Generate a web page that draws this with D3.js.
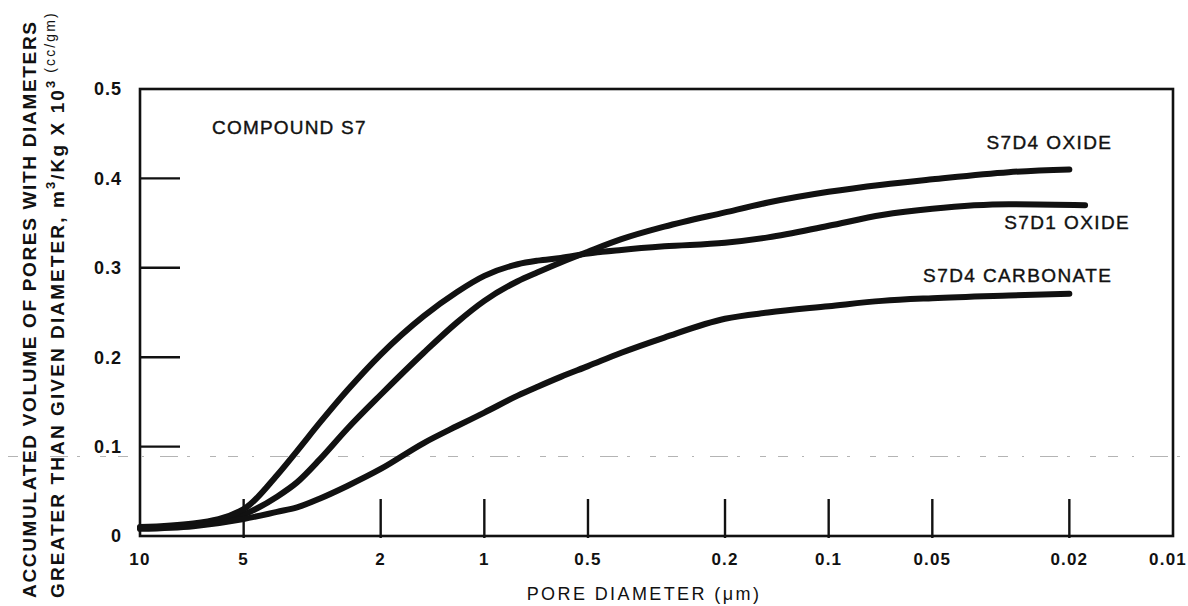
<!DOCTYPE html>
<html>
<head>
<meta charset="utf-8">
<script src="https://cdn.jsdelivr.net/npm/d3@7"></script>
<style>
  body { margin: 0; background: #fff; }
  svg { display: block; }
  text { font-family: "Liberation Sans", Arial, Helvetica, sans-serif; fill: #111; }
</style>
</head>
<body>
<svg id="chart" width="1188" height="606"></svg>
<script>
// Pore diameters (µm) at which the cumulative volumes are sampled
const diameters = [10, 7, 5, 4, 3.5, 3, 2.5, 2, 1.5, 1.2, 1, 0.8, 0.7, 0.6, 0.5, 0.4, 0.3, 0.2, 0.15, 0.1, 0.07, 0.05, 0.03, 0.02];
const diametersS7D1 = [10, 7, 5, 4, 3.5, 3, 2.5, 2, 1.5, 1.2, 1, 0.8, 0.7, 0.6, 0.5, 0.4, 0.3, 0.2, 0.15, 0.1, 0.07, 0.05, 0.03, 0.018];

// Accumulated pore volume, m³/kg × 10³ (cc/gm)
const s7d4Oxide     = [0.009, 0.013, 0.024, 0.044, 0.060, 0.086, 0.120, 0.158, 0.205, 0.239, 0.263, 0.285, 0.295, 0.306, 0.318, 0.332, 0.346, 0.362, 0.373, 0.385, 0.393, 0.399, 0.407, 0.410];
const s7d1Oxide     = [0.010, 0.014, 0.030, 0.068, 0.095, 0.127, 0.163, 0.203, 0.246, 0.273, 0.291, 0.304, 0.308, 0.311, 0.316, 0.320, 0.324, 0.328, 0.334, 0.347, 0.359, 0.366, 0.371, 0.370];
const s7d4Carbonate = [0.008, 0.011, 0.019, 0.027, 0.032, 0.042, 0.056, 0.075, 0.104, 0.123, 0.138, 0.157, 0.167, 0.178, 0.190, 0.205, 0.222, 0.243, 0.250, 0.257, 0.263, 0.266, 0.269, 0.271];

const seriesNames = ["S7D4 OXIDE", "S7D1 OXIDE", "S7D4 CARBONATE"];
const xTickValues = [5, 2, 1, 0.5, 0.2, 0.1, 0.05, 0.02];
const xLabelValues = [10, 5, 2, 1, 0.5, 0.2, 0.1, 0.05, 0.02, 0.01];
const yTickValues = [0.1, 0.2, 0.3, 0.4];
const yLabelValues = [0, 0.1, 0.2, 0.3, 0.4, 0.5];
const guideValue = 0.089;

const svg = d3.select("#chart");
svg.append("rect").attr("width", 1188).attr("height", 606).attr("fill", "#fff");

const x = d3.scaleLog().domain([10, 0.01]).range([140, 1173]);
const y = d3.scaleLinear().domain([0, 0.5]).range([536, 89]);

const [x0, x1] = x.range();
const [y0, y1] = y.range();

// faint dashed guide running across the sheet
svg.append("line")
  .attr("x1", 8).attr("x2", 1182)
  .attr("y1", y(guideValue)).attr("y2", y(guideValue))
  .attr("stroke", "#b4b4b4").attr("stroke-width", 1.1)
  .attr("stroke-dasharray", "10 14 2 16 18 9 3 20 6 12");

// frame
svg.append("rect")
  .attr("x", x0).attr("y", y1)
  .attr("width", x1 - x0).attr("height", y0 - y1)
  .attr("fill", "none").attr("stroke", "#111").attr("stroke-width", 2.6);

// inward y ticks
svg.append("g").selectAll("line").data(yTickValues).join("line")
  .attr("x1", x0).attr("x2", x0 + 40)
  .attr("y1", d => y(d)).attr("y2", d => y(d))
  .attr("stroke", "#111").attr("stroke-width", 2.4);

// upward x ticks
svg.append("g").selectAll("line").data(xTickValues).join("line")
  .attr("x1", d => x(d)).attr("x2", d => x(d))
  .attr("y1", y0 + 2).attr("y2", y0 - 37)
  .attr("stroke", "#111").attr("stroke-width", 2.4);

// y tick labels
svg.append("g").selectAll("text").data(yLabelValues).join("text")
  .attr("x", 122).attr("y", d => y(d)).attr("dy", "0.36em")
  .attr("text-anchor", "end")
  .attr("font-size", 18).attr("font-weight", "bold").attr("letter-spacing", 1)
  .text(d => d === 0 ? "0" : d3.format(".1f")(d));

// x tick labels (the last one is tucked inside the page edge)
const lastLabel = xLabelValues[xLabelValues.length - 1];
svg.append("g").selectAll("text").data(xLabelValues).join("text")
  .attr("x", d => d === lastLabel ? 1187 : x(d)).attr("y", 565)
  .attr("text-anchor", d => d === lastLabel ? "end" : "middle")
  .attr("font-size", 17).attr("font-weight", "bold").attr("letter-spacing", 1.2)
  .text(d => String(d));

// x axis title
svg.append("text")
  .attr("x", 644).attr("y", 600)
  .attr("text-anchor", "middle")
  .attr("font-size", 18).attr("letter-spacing", 2.4)
  .text("PORE DIAMETER (μm)");

// y axis title, two rotated lines
svg.append("text")
  .attr("transform", "translate(36,598) rotate(-90)")
  .attr("font-size", 19).attr("font-weight", "bold")
  .attr("textLength", 576).attr("lengthAdjust", "spacing")
  .text("ACCUMULATED VOLUME OF PORES WITH DIAMETERS");

const t2 = svg.append("text")
  .attr("transform", "translate(64,598) rotate(-90)")
  .attr("font-size", 19).attr("font-weight", "bold").attr("letter-spacing", 2.1);
t2.append("tspan").text("GREATER THAN GIVEN DIAMETER, m");
t2.append("tspan").attr("font-size", 13).attr("dy", -9).text("3");
t2.append("tspan").attr("dy", 9).text("/Kg X 10");
t2.append("tspan").attr("font-size", 13).attr("dy", -9).text("3");
t2.append("tspan").attr("font-size", 14).attr("font-weight", "normal").attr("dx", 6).text("(cc/gm)");

// curves
const line = d3.line()
  .x(d => x(d[0]))
  .y(d => y(d[1]))
  .curve(d3.curveMonotoneX);

const series = [
  { name: seriesNames[0], d: diameters, v: s7d4Oxide, dx: 43, dy: -20 },
  { name: seriesNames[1], d: diametersS7D1, v: s7d1Oxide, dx: 45, dy: 24 },
  { name: seriesNames[2], d: diameters, v: s7d4Carbonate, dx: 43, dy: -12 }
];

svg.append("g").selectAll("path").data(series).join("path")
  .attr("d", s => line(s.d.map((dd, i) => [dd, s.v[i]])))
  .attr("fill", "none").attr("stroke", "#111")
  .attr("stroke-width", 6).attr("stroke-linecap", "round").attr("stroke-linejoin", "round");

// curve labels placed off each curve's last point
svg.append("g").selectAll("text").data(series).join("text")
  .attr("x", s => x(s.d[s.d.length - 1]) + s.dx)
  .attr("y", s => y(s.v[s.v.length - 1]) + s.dy)
  .attr("text-anchor", "end")
  .attr("font-size", 19).attr("letter-spacing", 1.4)
  .attr("stroke", "#111").attr("stroke-width", 0.4)
  .text(s => s.name);

svg.append("text")
  .attr("x", 212).attr("y", 134)
  .attr("font-size", 19).attr("letter-spacing", 1.2)
  .attr("stroke", "#111").attr("stroke-width", 0.4)
  .text("COMPOUND S7");
</script>
</body>
</html>
